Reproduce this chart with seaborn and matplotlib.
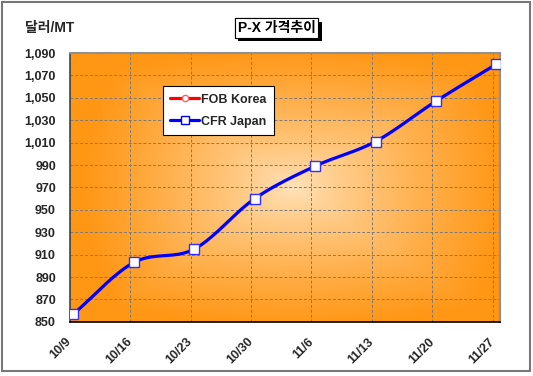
import numpy as np
import pandas as pd
import matplotlib
matplotlib.use("Agg")
import matplotlib.pyplot as plt
import matplotlib.patheffects as pe
import matplotlib.transforms as mtransforms
from matplotlib.ticker import FuncFormatter
import seaborn as sns

# ---- data ----
dates = ["10/9", "10/16", "10/23", "10/30", "11/6", "11/13", "11/20", "11/27"]
cfr_japan = [857, 903, 915, 960, 989, 1011, 1047, 1080]
fob_korea = [np.nan] * 8
series_names = ["FOB Korea", "CFR Japan"]
y_ticks = [850, 870, 890, 910, 930, 950, 970, 990, 1010, 1030, 1050, 1070, 1090]
title = "P-X 가격추이"
ylabel = "달러/MT"

sns.set_theme(style="white")
plt.rcParams['font.family'] = ['Liberation Sans', 'Noto Sans CJK KR', 'DejaVu Sans']

fig = plt.figure(figsize=(5.33, 3.76), dpi=100)
fig.patch.set_facecolor("white")
ax = fig.add_axes([0.131, 0.144, 0.807, 0.715])

# gradient background
ny, nx = 200, 300
yy, xx = np.mgrid[0:1:ny*1j, 0:1:nx*1j]
dx = (xx - 0.52) / 0.52
dy = (yy - 0.50) / 0.55
t = np.clip(np.maximum(np.abs(dx), np.abs(dy)) * 0.6 + np.sqrt(dx**2 + dy**2) * 0.45, 0, 1) ** 0.8
c0 = np.array([255, 228, 190]) / 255
c1 = np.array([255, 150, 20]) / 255
img = c0[None, None, :] * (1 - t[..., None]) + c1[None, None, :] * t[..., None]
ax.imshow(img, extent=[0, 1, 0, 1], transform=ax.transAxes, aspect="auto",
          zorder=0, origin="lower")

x = np.arange(len(dates))
df = pd.DataFrame({"x": x, "CFR Japan": cfr_japan, "FOB Korea": fob_korea})

# smoothed rendering of the CFR Japan line (Catmull-Rom through the data points)
def catmull(px, py, n=20):
    px = np.asarray(px, float); py = np.asarray(py, float)
    P = np.column_stack([px, py])
    P = np.vstack([2*P[0]-P[1], P, 2*P[-1]-P[-2]])
    out = []
    for i in range(1, len(P) - 2):
        p0, p1, p2, p3 = P[i-1], P[i], P[i+1], P[i+2]
        for s in np.linspace(0, 1, n, endpoint=False):
            out.append(0.5 * ((2*p1) + (-p0+p2)*s + (2*p0-5*p1+4*p2-p3)*s**2 + (-p0+3*p1-3*p2+p3)*s**3))
    out.append(P[-2])
    out = np.array(out)
    return out[:, 0], out[:, 1]

sx, sy = catmull(df["x"] + 0.06, df["CFR Japan"])
ax.plot(sx, sy, color="#0000FF", lw=2.3, zorder=3, solid_capstyle="round")
sns.lineplot(x=df["x"] + 0.06, y=df["CFR Japan"], ax=ax, lw=0, marker="s", markersize=7,
             markerfacecolor="white", markeredgecolor="#3030FF", markeredgewidth=1.0,
             zorder=4, legend=False)
ax.plot(df["x"], df["FOB Korea"], color="#FF0000", lw=2.3, marker="D", markersize=4.5,
        markerfacecolor="white", markeredgecolor="#FF4040", zorder=3)

ax.set_xlim(0, 7.12)
ax.set_ylim(y_ticks[0], y_ticks[-1])
ax.set_yticks(y_ticks)
ax.yaxis.set_major_formatter(FuncFormatter(lambda v, p: f"{int(v):,}"))
ax.set_xticks(x)
ax.set_xticklabels(dates, rotation=45, ha="right", va="center", rotation_mode="anchor",
                   fontsize=9, fontweight="bold")
offset = mtransforms.ScaledTranslation(9 / 100, 0, fig.dpi_scale_trans)
for lab in ax.get_xticklabels():
    lab.set_transform(lab.get_transform() + offset)
for lab in ax.get_yticklabels():
    lab.set_fontsize(9); lab.set_fontweight("bold")
ax.tick_params(axis="x", direction="out", length=3, width=0.8, color="black", pad=10)
ax.tick_params(axis="y", direction="in", length=3, width=0.8, color="#555555", pad=10)
ax.set_xlabel(""); ax.set_ylabel("")

ax.grid(True, color="#7a7a7a", linestyle=(0, (3, 2)), linewidth=0.7, zorder=1)
for gl in ax.get_xgridlines() + ax.get_ygridlines():
    gl.set_zorder(1)
for s in ["top", "right"]:
    ax.spines[s].set_color("#909090"); ax.spines[s].set_linewidth(1.5)
ax.spines["left"].set_color("#444444"); ax.spines["left"].set_linewidth(1.2)
ax.spines["bottom"].set_color("black"); ax.spines["bottom"].set_linewidth(1.2)

# legend
from matplotlib.lines import Line2D
handles = [Line2D([], [], color="#FF0000", lw=2.3, marker="o", markersize=4.5,
                  markerfacecolor="white", markeredgecolor="#FF6060"),
           Line2D([], [], color="#0000FF", lw=2.3, marker="s", markersize=6,
                  markerfacecolor="white", markeredgecolor="#0000FF")]
leg = ax.legend(handles, series_names, loc="upper left", bbox_to_anchor=(0.216, 0.877),
                frameon=True, fancybox=False, framealpha=1, edgecolor="black",
                prop={"weight": "bold", "size": 9}, handlelength=2.3,
                borderpad=0.6, labelspacing=0.8, handletextpad=0.2, borderaxespad=0)
leg.get_frame().set_linewidth(0.8)

# title with shadow box
tt = fig.text(0.519, 0.925, title, ha="center", va="center", fontsize=10, fontweight="bold",
              color="black",
              bbox=dict(boxstyle="square,pad=0.2", facecolor="white", edgecolor="black", lw=0.8))
tt.get_bbox_patch().set_path_effects([pe.withSimplePatchShadow(offset=(2.5, -2.5),
                                      shadow_rgbFace="black", alpha=1.0), pe.Normal()])

fig.text(0.047, 0.925, ylabel, ha="left", va="center", fontsize=10, fontweight="bold")

# figure frame
from matplotlib.patches import Rectangle
fig.patches.append(Rectangle((0.003, 0.012), 0.992, 0.984, transform=fig.transFigure,
                             fill=False, edgecolor="#777777", lw=1.5))

fig.savefig("out.png", dpi=100)
